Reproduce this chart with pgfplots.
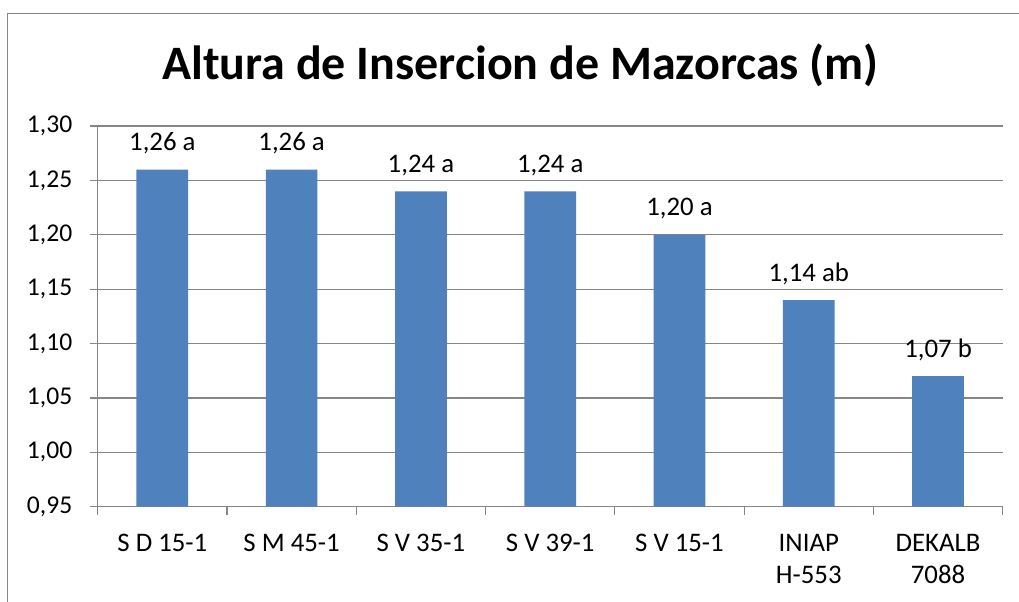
\documentclass[border=0pt]{standalone}
\usepackage{pgfplots}
\pgfplotsset{compat=1.18}
\usepackage{fontspec}
\setmainfont{Carlito}
\definecolor{barblue}{HTML}{4F81BD}
\definecolor{axgray}{HTML}{868686}
\begin{document}
\begin{tikzpicture}
\useasboundingbox (0,0) rectangle (509.5pt,300.5pt);
\draw[axgray, line width=0.6pt] (3.75pt,-1pt) -- (3.75pt,293.85pt) -- (510.5pt,293.85pt);
\node[anchor=base, inner sep=0pt, font=\fontsize{24}{28}\selectfont\bfseries] at (260.25pt,260.5pt) {Altura de Insercion de Mazorcas (m)};
\begin{axis}[
  at={(48.85pt,47.15pt)}, anchor=south west,
  scale only axis, width=452.5pt, height=190.35pt,
  xmin=-0.5, xmax=6.5, ymin=0.95, ymax=1.30,
  ytick={0.95,1,1.05,1.1,1.15,1.2,1.25,1.3},
  axis lines=left,
  axis line style={axgray, line width=0.6pt, -},
  ymajorgrids, grid style={axgray, line width=0.6pt},
  tick align=outside,
  major tick length=4pt, minor tick length=4pt,
  tick style={axgray, line width=0.6pt},
  xtick={0,...,6},
  major x tick style={draw=none},
  minor xtick={-0.5,0.5,1.5,2.5,3.5,4.5,5.5,6.5},
  xticklabels={S D 15-1, S M 45-1, S V 35-1, S V 39-1, S V 15-1, {INIAP\\H-553}, {DEKALB\\7088}},
  xticklabel style={font=\fontsize{13.4}{16}\selectfont, align=center, anchor=north, inner sep=0pt, yshift=-9.5pt},
  yticklabel style={font=\fontsize{12.8}{15}\selectfont, anchor=east, inner sep=0pt, xshift=-8.5pt},
  /pgf/number format/.cd, use comma, fixed, fixed zerofill, precision=2, assume math mode=true,
  /pgfplots/.cd,
  ybar, bar width=25.85pt, bar shift=0pt,
  nodes near coords, point meta=explicit symbolic,
  every node near coord/.append style={anchor=base, yshift=9.5pt, font=\fontsize{13.4}{15}\selectfont, black},
  clip=false,
]
\addplot[fill=barblue, draw=none] coordinates {
  (0,1.26) [1,26 a]
  (1,1.26) [1,26 a]
  (2,1.24) [1,24 a]
  (3,1.24) [1,24 a]
  (4,1.20) [1,20 a]
  (5,1.14) [1,14 ab]
  (6,1.07) [1,07 b]
};
\end{axis}
\end{tikzpicture}
\end{document}
